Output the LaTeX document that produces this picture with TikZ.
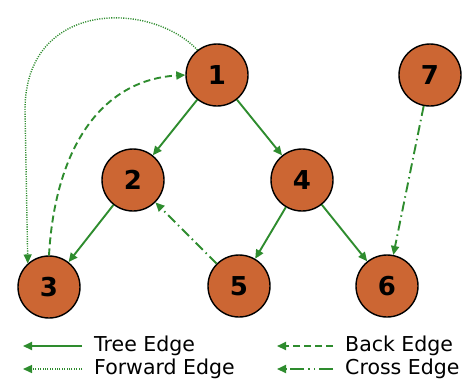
\documentclass[tikz,border=0pt]{standalone}
\usepackage{fontspec}
\setmainfont{DejaVu Sans}
\usetikzlibrary{arrows.meta}
\definecolor{vtxfill}{RGB}{204,102,51}
\definecolor{edgegreen}{RGB}{46,140,46}

\begin{document}
\begin{tikzpicture}[x=1pt, y=-1pt,
    vtx/.style={circle, draw=black, line width=1.4pt, fill=vtxfill,
                minimum size=62pt, inner sep=0pt, font=\fontsize{26}{26}\selectfont\bfseries},
    edge/.style={draw=edgegreen, line width=1.9pt,
                 -{Triangle[length=9pt, width=8pt]}},
    tree/.style={edge},
    back/.style={edge, dash pattern=on 7pt off 4pt},
    fwd/.style={edge, line width=1.4pt, dash pattern=on 1.1pt off 1.3pt},
    cross/.style={edge, dash pattern=on 10pt off 4pt on 1.5pt off 4pt},
    lgd/.style={anchor=west, inner sep=0pt, font=\fontsize{20.5}{20.5}\selectfont}]
      \useasboundingbox (0,0) rectangle (470,384);
      \node[vtx] (n1) at (217,75)  {1};
      \node[vtx] (n2) at (133,180) {2};
      \node[vtx] (n3) at (49,287)  {3};
      \node[vtx] (n4) at (302,180) {4};
      \node[vtx] (n5) at (239,286) {5};
      \node[vtx] (n6) at (387,286) {6};
      \node[vtx] (n7) at (430,75)  {7};
      \draw[tree] (n1) -- (n2);
      \draw[tree] (n1) -- (n4);
      \draw[tree] (n2) -- (n3);
      \draw[tree] (n4) -- (n5);
      \draw[tree] (n4) -- (n6);
      \draw[back] (n3.north) .. controls (55,150) and (100,80) .. (n1.west);
      \draw[fwd] (n1.128) .. controls (150,0) and (25,0) .. (25,110) -- (n3.132);
      \draw[cross] (n5) -- (n2);
      \draw[cross] (n7) -- (n6);
      \node[lgd] (ltree)  at (94,346)  {Tree Edge};
      \node[lgd] (lfwd)   at (94,369)  {Forward Edge};
      \node[lgd] (lback)  at (345,346) {Back Edge};
      \node[lgd] (lcross) at (345,369) {Cross Edge};
      \draw[tree]  ([xshift=-12pt]ltree.west)  -- ([xshift=-71pt]ltree.west);
      \draw[fwd]   ([xshift=-12pt]lfwd.west)   -- ([xshift=-71pt]lfwd.west);
      \draw[back]  ([xshift=-12pt]lback.west)  -- ([xshift=-68pt]lback.west);
      \draw[cross, dash pattern=on 14pt off 4pt on 1.5pt off 4pt on 1.5pt off 4pt]
                   ([xshift=-12pt]lcross.west) -- ([xshift=-68pt]lcross.west);
    \end{tikzpicture}
\end{document}
